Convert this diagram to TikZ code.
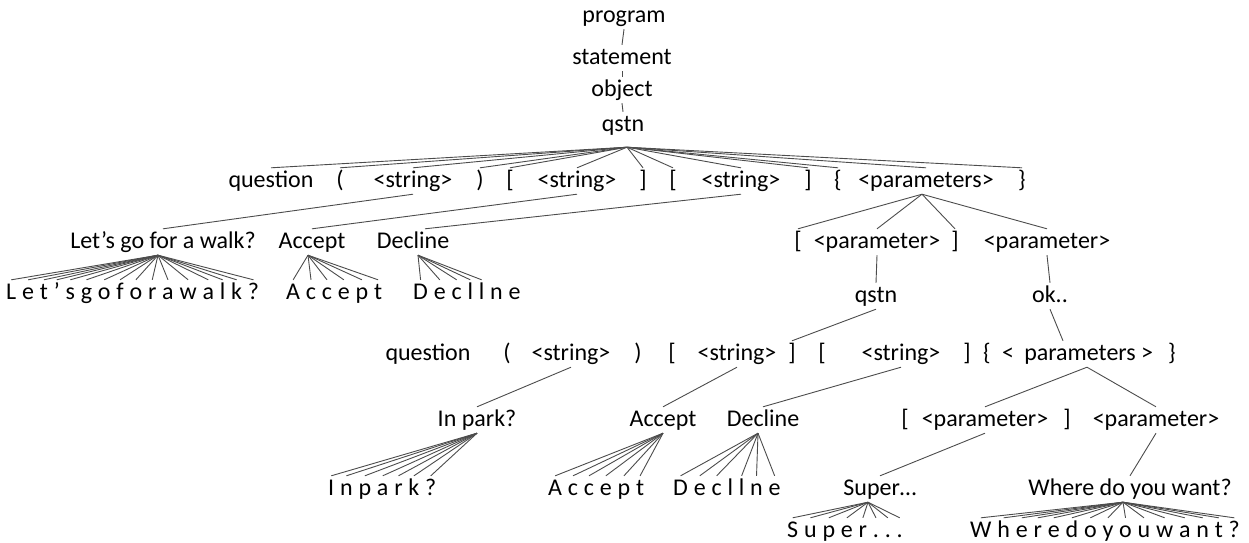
\documentclass[tikz,border=0pt]{standalone}
\usepackage{fontspec}
\setmainfont{Carlito}
\tikzset{
  tok/.style={anchor=base,inner sep=1pt,text height=18pt,text depth=6pt,font=\fontsize{24}{29}\selectfont,text=black},
  ltr/.style={tok,anchor=base west,inner xsep=0pt},
  edge/.style={draw=black!70,line width=0.9pt},
}
% spaced letters: prefix, start x, baseline, list
\newcommand\spacedrow[4]{%
  \foreach \c [count=\i] in {#4} {%
    \ifnum\i=1
      \node[ltr] (#1\i) at (#2,#3) {\c};
    \else
      \pgfmathtruncatemacro\j{\i-1}%
      \node[ltr] (#1\i) at ([xshift=5.43pt]#1\j.base east) {\c};
    \fi
  }%
}
\begin{document}
\begin{tikzpicture}[x=1pt,y=-1pt]
\useasboundingbox (0,0) rectangle (1249,542);

% top chain
\node[tok] (prog) at (624,22) {program};
\node[tok] (stmt) at (622,64) {statement};
\node[tok] (obj) at (622,96) {object};
\node[tok] (q0) at (623,131) {qstn};
\draw[edge] (prog.south) -- (stmt.north);
\draw[edge] (stmt.south) -- (obj.north);
\draw[edge] (obj.south) -- (q0.north);
\coordinate (a0) at ([xshift=4pt,yshift=-9pt]q0.south);

% row 1
\node[tok] (qn1) at (271,187) {question};
\node[tok] (lp1) at (340,187) {(};
\node[tok] (s1) at (413,187) {<string>};
\node[tok] (rp1) at (480,187) {)};
\node[tok] (lb1) at (510,187) {[};
\node[tok] (s2) at (577,187) {<string>};
\node[tok] (rb1) at (643,187) {]};
\node[tok] (lb2) at (673,187) {[};
\node[tok] (s3) at (741,187) {<string>};
\node[tok] (rb2) at (808,187) {]};
\node[tok] (lc1) at (838,187) {\{};
\node[tok] (ps1) at (926,187) {<parameters>};
\node[tok] (rc1) at (1022,187) {\}};
\foreach \n in {qn1,lp1,s1,rp1,lb1,s2,rb1,lb2,s3,rb2,lc1,ps1,rc1}
  \draw[edge] (a0) -- (\n.north);

% row 2
\node[tok] (lets) at (163,248) {Let’s go for a walk?};
\node[tok] (acc1) at (312,248) {Accept};
\node[tok] (dec1) at (413,248) {Decline};
\node[tok] (lb3) at (798,248) {[};
\node[tok] (pa1) at (877,248) {<parameter>};
\node[tok] (rb3) at (955,248) {]};
\node[tok] (pa2) at (1047,248) {<parameter>};
\draw[edge] (s1.south) -- (lets.north);
\draw[edge] (s2.south) -- (acc1.north);
\draw[edge] (s3.south) -- ([xshift=12pt]dec1.north);
\foreach \n in {lb3,pa1,rb3,pa2}
  \draw[edge] ([xshift=-4pt]ps1.south) -- (\n.north);

% row 3
\spacedrow{la}{6}{299}{L,e,t,’,s,g,o,f,o,r,a,w,a,l,k,?}
\spacedrow{ca}{286}{299}{A,c,c,e,p,t}
\spacedrow{da}{413}{299}{D,e,c,l,l,n,e}
\foreach \i in {1,...,16} \draw[edge] ([xshift=-5pt]lets.south) -- (la\i.north);
\foreach \i in {1,...,6} \draw[edge] ([xshift=-4pt]acc1.south) -- (ca\i.north);
\foreach \i in {1,...,5} \draw[edge] ([xshift=5pt]dec1.south) -- (da\i.north);
\node[tok] (q2) at (876,302) {qstn};
\node[tok] (ok) at (1050,302) {ok..};
\draw[edge] (pa1.south) -- (q2.north);
\draw[edge] (pa2.south) -- (ok.north);

% row 4
\node[tok] (qn2) at (428,360) {question};
\node[tok] (lp2) at (507,360) {(};
\node[tok] (s4) at (571,360) {<string>};
\node[tok] (rp2) at (638,360) {)};
\node[tok] (lb4) at (672,360) {[};
\node[tok] (s5) at (737,360) {<string>};
\node[tok] (rb4) at (792,360) {]};
\node[tok] (lb5) at (822,360) {[};
\node[tok] (s6) at (901,360) {<string>};
\node[tok] (rb5) at (967,360) {]};
\node[tok] (lc2) at (987,360) {\{};
\node[tok] (ltsym) at (1008,360) {<};
\node[tok] (pw) at (1080,360) {parameters};
\node[tok] (gtsym) at (1147,360) {>};
\node[tok] (rc2) at (1172,360) {\}};
\draw[edge] (q2.south) -- (rb4.north);
\draw[edge] (ok.south) -- ([xshift=-17pt]pw.north);

% row 5
\node[tok] (inpk) at (477,426) {In park?};
\node[tok] (acc2) at (663,426) {Accept};
\node[tok] (dec2) at (763,426) {Decline};
\node[tok] (lb6) at (905,426) {[};
\node[tok] (pa3) at (985,426) {<parameter>};
\node[tok] (rb6) at (1067,426) {]};
\node[tok] (pa4) at (1156,426) {<parameter>};
\draw[edge] (s4.south) -- (inpk.north);
\draw[edge] (s5.south) -- (acc2.north);
\draw[edge] (s6.south) -- (dec2.north);
\draw[edge] ([xshift=7pt]pw.south) -- (pa3.north);
\draw[edge] ([xshift=7pt]pw.south) -- (pa4.north);

% row 6
\spacedrow{ip}{328}{495}{I,n,p,a,r,k,?}
\spacedrow{cb}{548}{495}{A,c,c,e,p,t}
\spacedrow{db}{673}{495}{D,e,c,l,l,n,e}
\node[tok] (sup) at (880,495) {Super…};
\node[tok] (wh) at (1130,495) {Where do you want?};
\foreach \i in {1,...,7} \draw[edge] (inpk.south) -- (ip\i.north);
\foreach \i in {1,...,6} \draw[edge] (acc2.south) -- (cb\i.north);
\foreach \i in {1,2,3,5,6,7} \draw[edge] ([xshift=-5pt]dec2.south) -- (db\i.north);
\draw[edge] (pa3.south) -- (sup.north);
\draw[edge] (pa4.south) -- (wh.north);

% row 7
\spacedrow{sp}{787}{537}{S,u,p,e,r,.,.,.}
\spacedrow{wl}{970}{537}{W,h,e,r,e,d,o,y,o,u,w,a,n,t,?}
\foreach \i in {1,...,8} \draw[edge] ([xshift=-12pt]sup.south) -- (sp\i.north);
\foreach \i in {1,...,15} \draw[edge] ([xshift=-7pt]wh.south) -- (wl\i.north);
\end{tikzpicture}
\end{document}
